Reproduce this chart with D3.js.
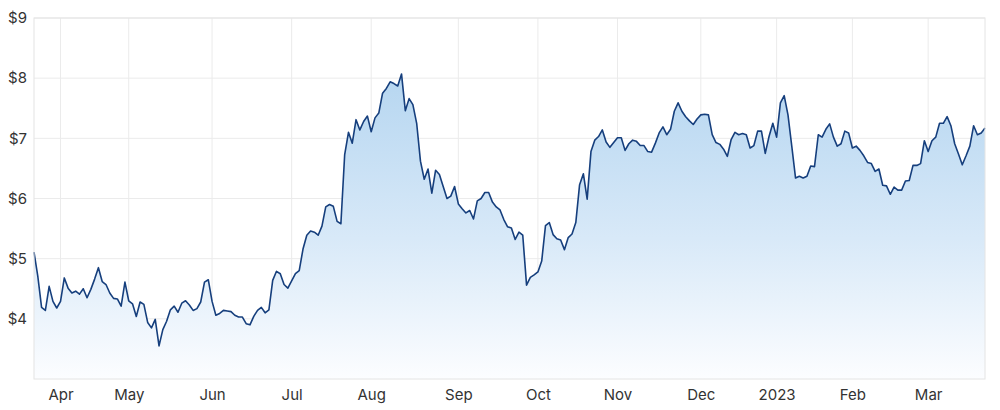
<!DOCTYPE html>
<html>
<head>
<meta charset="utf-8">
<script src="https://cdn.jsdelivr.net/npm/d3@7"></script>
<style>
  body { margin: 0; background: #fff; }
  text { font-family: Inter, Roboto, "Noto Sans", sans-serif; }
</style>
</head>
<body>
<script>
const width = 1000;
const height = 410;

// daily closing prices, one per trading day (Mar 2022 - Mar 2023)
const prices = [
  5.11, 4.71, 4.19, 4.14, 4.54, 4.29, 4.18, 4.29, 4.68, 4.51,
  4.43, 4.46, 4.41, 4.50, 4.35, 4.49, 4.66, 4.85, 4.62, 4.57,
  4.43, 4.34, 4.33, 4.21, 4.61, 4.30, 4.25, 4.04, 4.28, 4.24,
  3.94, 3.85, 3.99, 3.55, 3.82, 3.96, 4.15, 4.21, 4.11, 4.26,
  4.30, 4.23, 4.14, 4.17, 4.28, 4.61, 4.65, 4.29, 4.06, 4.09,
  4.14, 4.13, 4.12, 4.06, 4.03, 4.03, 3.92, 3.90, 4.04, 4.14,
  4.19, 4.10, 4.15, 4.64, 4.79, 4.75, 4.57, 4.51, 4.63, 4.75,
  4.80, 5.16, 5.39, 5.46, 5.44, 5.39, 5.54, 5.86, 5.90, 5.87,
  5.62, 5.58, 6.73, 7.10, 6.92, 7.31, 7.14, 7.28, 7.37, 7.11,
  7.34, 7.42, 7.75, 7.83, 7.94, 7.91, 7.87, 8.07, 7.46, 7.66,
  7.56, 7.25, 6.62, 6.32, 6.49, 6.09, 6.47, 6.40, 6.20, 6.00,
  6.04, 6.20, 5.91, 5.83, 5.76, 5.80, 5.66, 5.96, 6.00, 6.10,
  6.10, 5.94, 5.86, 5.81, 5.65, 5.53, 5.51, 5.32, 5.44, 5.39,
  4.56, 4.69, 4.73, 4.78, 4.96, 5.55, 5.60, 5.40, 5.33, 5.31,
  5.15, 5.35, 5.41, 5.60, 6.23, 6.41, 5.99, 6.78, 6.97, 7.03,
  7.14, 6.94, 6.85, 6.93, 7.01, 7.01, 6.80, 6.91, 6.97, 6.95,
  6.88, 6.88, 6.78, 6.77, 6.92, 7.09, 7.19, 7.06, 7.15, 7.45,
  7.59, 7.45, 7.36, 7.29, 7.23, 7.32, 7.39, 7.40, 7.39, 7.06,
  6.93, 6.90, 6.82, 6.70, 6.98, 7.10, 7.06, 7.08, 7.06, 6.84,
  6.88, 7.12, 7.12, 6.75, 7.03, 7.25, 7.02, 7.59, 7.71, 7.39,
  6.87, 6.34, 6.37, 6.34, 6.37, 6.54, 6.53, 7.06, 7.02, 7.15,
  7.24, 7.02, 6.87, 6.91, 7.12, 7.09, 6.84, 6.87, 6.80, 6.71,
  6.60, 6.58, 6.45, 6.49, 6.22, 6.21, 6.07, 6.19, 6.14, 6.14,
  6.29, 6.30, 6.55, 6.55, 6.58, 6.96, 6.78, 6.96, 7.02, 7.25,
  7.25, 7.36, 7.21, 6.91, 6.74, 6.56, 6.71, 6.87, 7.21, 7.06,
  7.09, 7.17
];

// month labels and the trading-day index where each month starts
const monthLabels = ["Apr", "May", "Jun", "Jul", "Aug", "Sep", "Oct", "Nov", "Dec", "2023", "Feb", "Mar"];
const monthIndex = [7, 25, 47, 68, 89, 112, 133, 154, 176, 196, 216, 236];

const priceTicks = [4, 5, 6, 7, 8, 9];

const margin = {top: 18, right: 15, bottom: 31, left: 34};

const x = d3.scaleLinear()
      .domain([0, prices.length - 1])
      .range([margin.left, width - margin.right]);

const y = d3.scaleLinear()
      .domain([3, 9])
      .range([height - margin.bottom, margin.top]);

const svg = d3.select("body")
      .append("svg")
      .attr("width", width)
      .attr("height", height);

const grad = svg.append("defs")
      .append("linearGradient")
      .attr("id", "fillGrad")
      .attr("gradientUnits", "userSpaceOnUse")
      .attr("x1", 0).attr("x2", 0)
      .attr("y1", y(8.2)).attr("y2", y(3));
grad.append("stop").attr("offset", "0%").attr("stop-color", "#b4d5f0");
grad.append("stop").attr("offset", "55%").attr("stop-color", "#d8e9f8");
grad.append("stop").attr("offset", "100%").attr("stop-color", "#fcfdff");

// horizontal grid
svg.append("g")
    .selectAll("line")
    .data(priceTicks)
    .enter()
    .append("line")
    .attr("x1", margin.left)
    .attr("x2", width - margin.right)
    .attr("y1", d => y(d))
    .attr("y2", d => y(d))
    .attr("stroke", "#ebebeb")
    .attr("stroke-width", 1);

// vertical grid
svg.append("g")
    .selectAll("line")
    .data(monthIndex)
    .enter()
    .append("line")
    .attr("x1", d => x(d))
    .attr("x2", d => x(d))
    .attr("y1", margin.top)
    .attr("y2", height - margin.bottom)
    .attr("stroke", "#ebebeb")
    .attr("stroke-width", 1);

// area + line
const area = d3.area()
      .x((d, i) => x(i))
      .y0(y(3))
      .y1(d => y(d));

const line = d3.line()
      .x((d, i) => x(i))
      .y(d => y(d));

svg.append("path")
    .datum(prices)
    .attr("fill", "url(#fillGrad)")
    .attr("d", area);

svg.append("path")
    .datum(prices)
    .attr("fill", "none")
    .attr("stroke", "#163f7d")
    .attr("stroke-width", 1.6)
    .attr("stroke-linejoin", "round")
    .attr("d", line);

// plot frame
svg.append("rect")
    .attr("x", margin.left)
    .attr("y", margin.top)
    .attr("width", width - margin.left - margin.right)
    .attr("height", height - margin.top - margin.bottom)
    .attr("fill", "none")
    .attr("stroke", "#e4e4e4")
    .attr("stroke-width", 1);

// y axis labels
const yAxis = d3.axisLeft(y)
      .tickValues(priceTicks)
      .tickFormat(d => "$" + d)
      .tickSize(0)
      .tickPadding(7);

svg.append("g")
    .attr("transform", `translate(${margin.left},0)`)
    .call(yAxis)
    .call(g => g.select(".domain").remove())
    .call(g => g.selectAll("text")
          .attr("font-size", 15)
          .attr("fill", "#333")
          .style("font-family", "Inter, Roboto, 'Noto Sans', sans-serif"));

// x axis labels
const xAxis = d3.axisBottom(x)
      .tickValues(monthIndex)
      .tickFormat((d, i) => monthLabels[i])
      .tickSize(0)
      .tickPadding(10);

svg.append("g")
    .attr("transform", `translate(0,${height - margin.bottom})`)
    .call(xAxis)
    .call(g => g.select(".domain").remove())
    .call(g => g.selectAll("text")
          .attr("font-size", 15)
          .attr("fill", "#333")
          .style("font-family", "Inter, Roboto, 'Noto Sans', sans-serif"));
</script>
</body>
</html>
